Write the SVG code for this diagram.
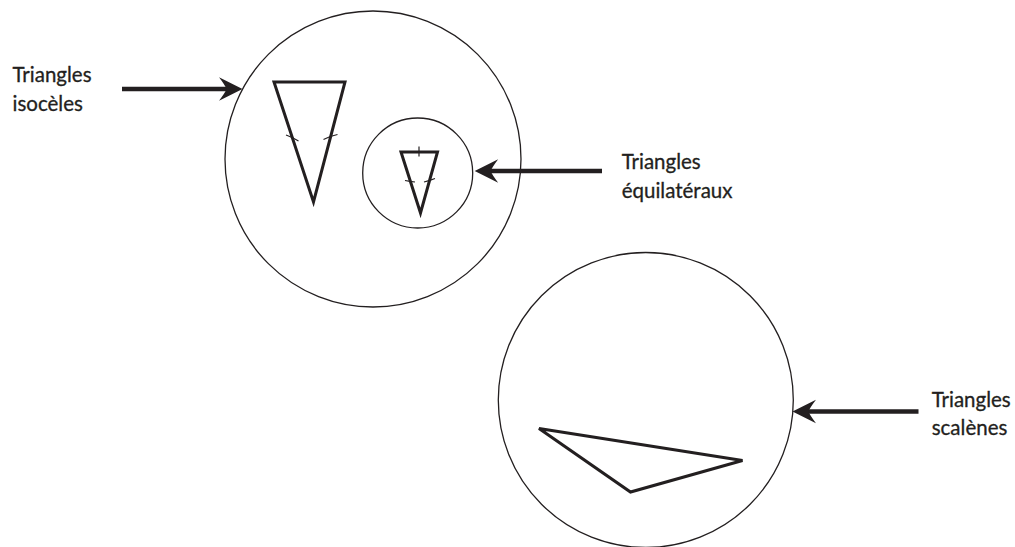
<svg xmlns="http://www.w3.org/2000/svg" width="1015" height="547" viewBox="0 0 1015 547">
<style>
.bg{fill:#fff}
.circ{fill:none;stroke:#231f20;stroke-width:1.3}
.tri{fill:none;stroke:#231f20;stroke-width:3;stroke-linejoin:miter}
.tick{fill:none;stroke:#231f20;stroke-width:1.2}
.arr{fill:none;stroke:#231f20;stroke-width:4.5}
.lbl{font-family:"Lato","Liberation Sans",sans-serif;font-size:20.5px;fill:#231f20;stroke:#231f20;stroke-width:0.3}
</style>
<defs>
<marker id="ah" markerUnits="userSpaceOnUse" markerWidth="32" markerHeight="30" viewBox="-26 -14 30 28" refX="-12" refY="0" orient="auto">
<path d="M0,0 L-22,-11 Q-16,-3 -15,0 Q-16,3 -22,11 Z" fill="#231f20"/>
</marker>
</defs>
<rect class="bg" x="0" y="0" width="1015" height="547"/>
<g id="isoceles">
<circle class="circ" cx="373" cy="159" r="148"/>
<polygon class="tri" points="274,82 345,82 313.5,202"/>
<path class="tick" d="M286,135 Q292,137 298.5,141"/>
<path class="tick" d="M323.5,139.5 Q330,136 337.5,134.5"/>
</g>
<g id="equilateraux">
<circle class="circ" cx="417.7" cy="173" r="55"/>
<polygon class="tri" points="401,152 437.5,152 420.5,213"/>
<line class="tick" x1="419" y1="146.5" x2="419" y2="156.5"/>
<path class="tick" d="M405,180.5 Q410,181.5 415,182"/>
<path class="tick" d="M424,182 Q430,180.5 435,178.5"/>
</g>
<g id="scalenes">
<circle class="circ" cx="645.8" cy="400" r="147.5"/>
<polygon class="tri" points="539,428.5 742.5,460.5 630.5,492"/>
</g>
<g id="connectors">
<line class="arr" x1="122" y1="89" x2="229.7" y2="89" marker-end="url(#ah)"/>
<line class="arr" x1="602" y1="171" x2="487.5" y2="171" marker-end="url(#ah)"/>
<line class="arr" x1="918.5" y1="411.5" x2="805.3" y2="411.5" marker-end="url(#ah)"/>
</g>
<g id="labels">
<text class="lbl" x="12.5" y="82.3">Triangles</text>
<text class="lbl" x="12.5" y="110.5">isocèles</text>
<text class="lbl" x="621.7" y="169.3">Triangles</text>
<text class="lbl" x="621.7" y="198">équilatéraux</text>
<text class="lbl" x="931.7" y="406.7">Triangles</text>
<text class="lbl" x="931.7" y="435">scalènes</text>
</g>
</svg>
